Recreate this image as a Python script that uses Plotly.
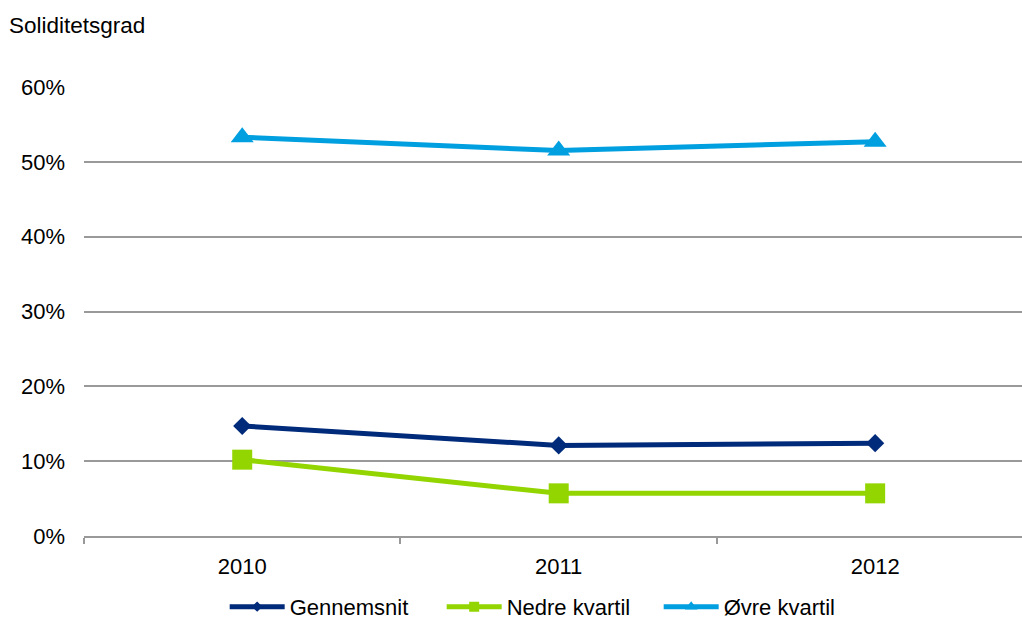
import plotly.graph_objects as go

years = ["2010", "2011", "2012"]
gennemsnit = [14.7, 12.1, 12.4]
nedre_kvartil = [10.2, 5.7, 5.7]
ovre_kvartil = [53.3, 51.5, 52.7]

series = [
    ("Gennemsnit", gennemsnit, "#002a7a", "diamond", 14, 8),
    ("Nedre kvartil", nedre_kvartil, "#93d500", "square", 20, 10),
    ("Øvre kvartil", ovre_kvartil, "#009fdf", "triangle-up", 20, 11),
]

FONT = "Liberation Sans, Arial, sans-serif"

fig = go.Figure()
for name, vals, color, sym, size, lsize in series:
    fig.add_trace(go.Scatter(
        x=years, y=vals, name=name, mode="lines+markers", showlegend=False,
        line=dict(color=color, width=5),
        marker=dict(symbol=sym, size=size, color=color),
    ))
for name, vals, color, sym, size, lsize in series:
    fig.add_trace(go.Scatter(
        x=[None], y=[None], name=name, mode="lines+markers", showlegend=True,
        line=dict(color=color, width=5),
        marker=dict(symbol=sym, size=lsize, color=color),
    ))

fig.update_layout(
    width=1022, height=619,
    margin=dict(l=84, r=0, t=87, b=83, autoexpand=False),
    paper_bgcolor="white", plot_bgcolor="white",
    font=dict(family=FONT, size=22, color="#000000"),
    showlegend=True,
    legend=dict(orientation="h", xanchor="center", x=0.497, yanchor="top", y=-0.111,
                font=dict(size=22), itemwidth=55,
                entrywidth=147, entrywidthmode="pixels",
                traceorder="normal", tracegroupgap=0),
    annotations=[dict(text="Soliditetsgrad", xref="paper", yref="paper",
                      x=(-84 + 7) / 938, y=1 + (87 - 26) / 449, xanchor="left", yanchor="middle",
                      showarrow=False, font=dict(size=22.5, family=FONT))],
)

fig.update_xaxes(
    type="category", range=[-0.5, 2.464],
    showgrid=False, showline=True, linecolor="#999999", linewidth=1.5,
    ticks="outside", tickson="boundaries", ticklen=6, tickcolor="#999999", tickwidth=1.5,
    ticklabelstandoff=10, zeroline=False,
)
fig.update_yaxes(
    range=[0, 60], dtick=10, ticksuffix="%",
    showgrid=True, gridcolor="#999999", gridwidth=1.5,
    zeroline=False, showline=False, ticks="", ticklabelstandoff=18,
)

fig.write_html("out.html")
